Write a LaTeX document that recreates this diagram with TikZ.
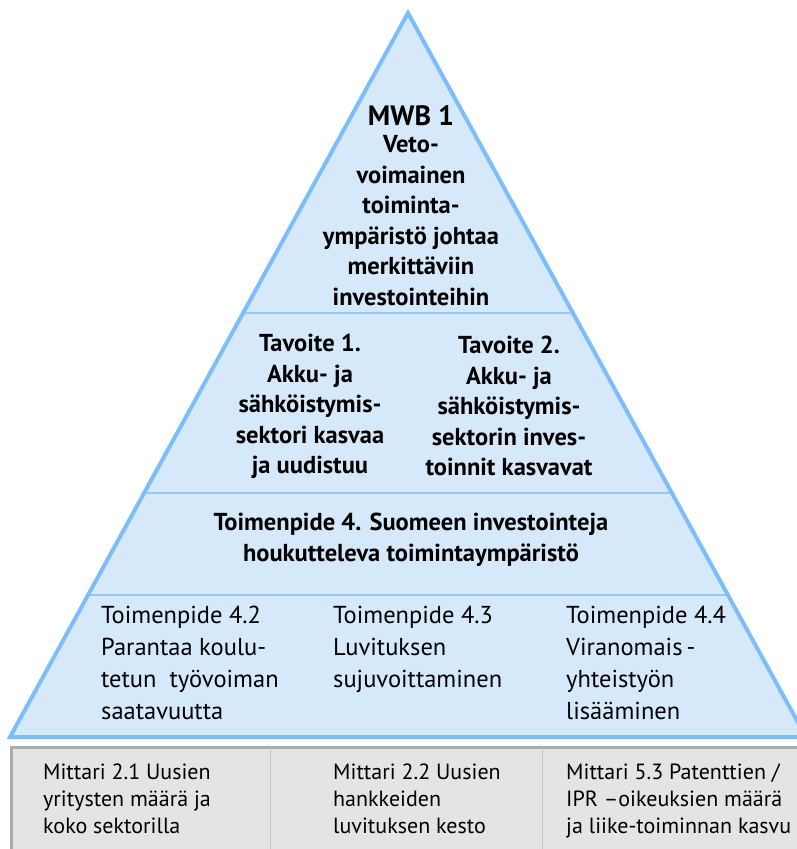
\documentclass[tikz,border=0pt]{standalone}
\usepackage{fontspec}
\setmainfont{PT Sans}
\usetikzlibrary{positioning}

\definecolor{pyrfill}{RGB}{214,233,251}
\definecolor{pyrline}{RGB}{125,190,250}
\definecolor{pyrsep}{RGB}{150,200,240}
\definecolor{tabfill}{RGB}{228,228,228}
\definecolor{tabedge}{RGB}{172,172,172}
\definecolor{tabsep}{RGB}{200,200,200}

\begin{document}
\begin{tikzpicture}[x=1pt, y=-1pt,
  headtext/.style={align=center, inner sep=0pt, anchor=north,
                   font=\bfseries\fontsize{24.5}{30.5}\selectfont},
  goaltext/.style={align=center, inner sep=0pt, anchor=north,
                   font=\bfseries\fontsize{24.5}{30.5}\selectfont},
  acttext/.style={align=left, inner sep=0pt, anchor=north west,
                  font=\fontsize{24.5}{32}\selectfont},
  metrictext/.style={align=left, inner sep=0pt, anchor=north west,
                     font=\fontsize{22}{27}\selectfont},
  sepline/.style={draw=pyrsep, line width=1.5pt},
]
  \useasboundingbox (0,0) rectangle (797,849);

  % Metric table (bottom strip)
  \fill[tabfill] (11,747) rectangle (797,849);
  \draw[tabedge, line width=3pt] (11,849) -- (11,747) -- (797,747);
  \draw[tabsep, line width=1pt] (270,748) -- (270,849);
  \draw[tabsep, line width=1pt] (542,748) -- (542,849);

  % Pyramid with level separators
  \fill[pyrfill] (408,13) -- (806,737) -- (10,737) -- cycle;
  \begin{scope}
    \clip (408,13) -- (806,737) -- (10,737) -- cycle;
    \draw[sepline] (0,313) -- (797,313);
    \draw[sepline] (0,493) -- (797,493);
    \draw[sepline] (0,595) -- (797,595);
  \end{scope}
  \draw[pyrline, line width=4pt] (408,13) -- (806,737) -- (10,737) -- cycle;

  % Top level
  \node[headtext] (mwb) at (411,105)
        {{\fontsize{28}{30}\selectfont MWB 1}\\[-3pt]
         Veto-\\ voimainen\\ toiminta-\\ ympäristö johtaa\\
         merkittäviin\\ investointeihin};

  % Goals
  \node[goaltext] (goal1) at (310,334)
        {Tavoite 1.\\ Akku- ja\\ sähköistymis-\\ sektori kasvaa\\ ja uudistuu};
  \node[goaltext] (goal2) at (509,336)
        {Tavoite 2.\\ Akku- ja\\ sähköistymis-\\ sektorin inves-\\ toinnit kasvavat};

  % Main action
  \node[goaltext] (act4) at (411,513)
        {Toimenpide 4. Suomeen investointeja\\ houkutteleva toimintaympäristö};

  % Sub-actions
  \node[acttext] (act42) at (101,606)
        {Toimenpide 4.2\\ Parantaa koulu-\\ tetun\ \ työvoiman\\ saatavuutta};
  \node[acttext] (act43) at (333,606)
        {Toimenpide 4.3\\ Luvituksen\\ sujuvoittaminen};
  \node[acttext] (act44) at (566,606)
        {Toimenpide 4.4\\ Viranomais\,-\\ yhteistyön\\ lisääminen};

  % Metrics
  \node[metrictext] (met21) at (43,764)
        {Mittari 2.1 Uusien\\ yritysten määrä ja\\ koko sektorilla};
  \node[metrictext] (met22) at (333,764)
        {Mittari 2.2 Uusien\\ hankkeiden\\ luvituksen kesto};
  \node[metrictext] (met53) at (566,764)
        {Mittari 5.3 Patenttien /\\ IPR –oikeuksien määrä\\ ja liike-toiminnan kasvu};
\end{tikzpicture}
\end{document}
